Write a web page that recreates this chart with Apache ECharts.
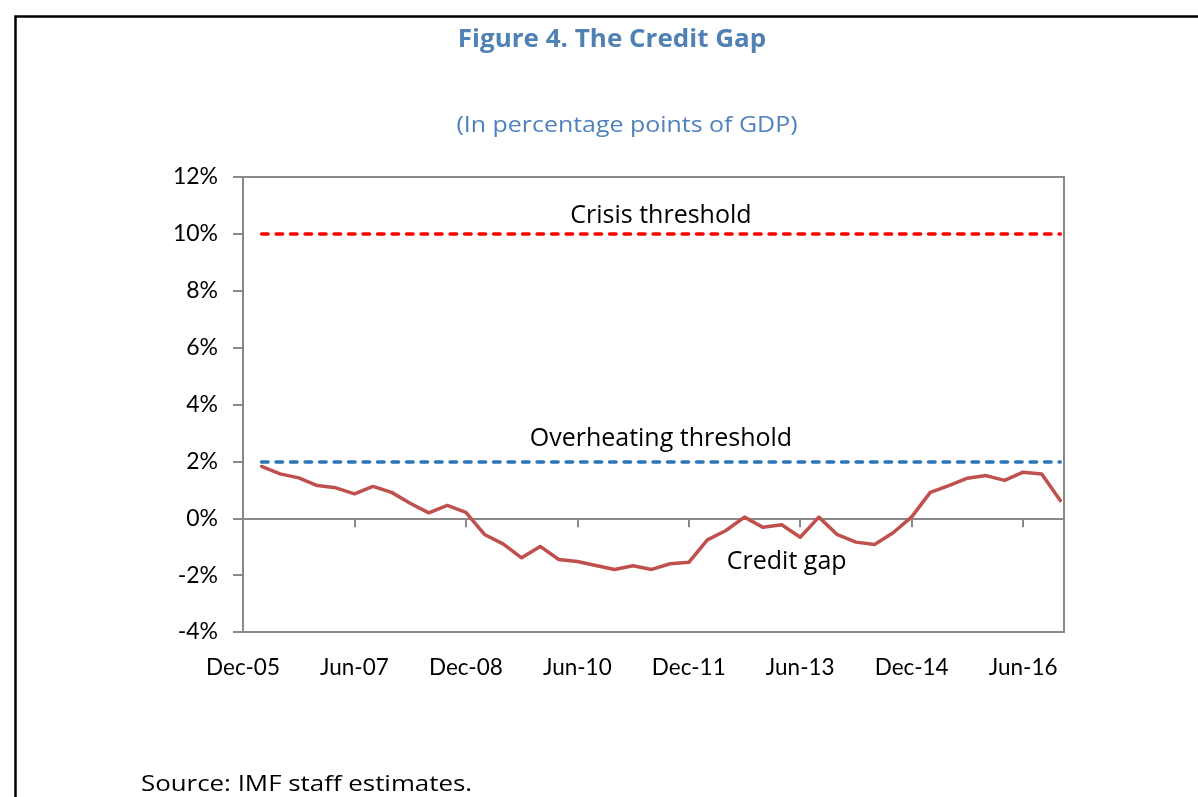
<!DOCTYPE html>
<html>
<head>
<meta charset="utf-8">
<script src="https://cdn.jsdelivr.net/npm/echarts@6/dist/echarts.min.js"></script>
<style>
html,body{margin:0;padding:0;background:#fff;}
#chart{width:1198px;height:797px;}
</style>
</head>
<body>
<div id="chart"></div>
<script>
// Quarterly observations (Mar-06 .. Dec-16); x position = quarters since Dec-05
const quarters = ['Mar-06','Jun-06','Sep-06','Dec-06','Mar-07','Jun-07','Sep-07','Dec-07',
  'Mar-08','Jun-08','Sep-08','Dec-08','Mar-09','Jun-09','Sep-09','Dec-09',
  'Mar-10','Jun-10','Sep-10','Dec-10','Mar-11','Jun-11','Sep-11','Dec-11',
  'Mar-12','Jun-12','Sep-12','Dec-12','Mar-13','Jun-13','Sep-13','Dec-13',
  'Mar-14','Jun-14','Sep-14','Dec-14','Mar-15','Jun-15','Sep-15','Dec-15',
  'Mar-16','Jun-16','Sep-16','Dec-16'];
const creditGap = [1.82,1.56,1.42,1.15,1.07,0.86,1.12,0.91,0.53,0.19,0.45,0.21,
  -0.57,-0.90,-1.39,-0.99,-1.45,-1.52,-1.66,-1.80,-1.67,-1.80,-1.60,-1.55,
  -0.76,-0.43,0.04,-0.32,-0.23,-0.67,0.04,-0.58,-0.84,-0.92,-0.51,0.05,
  0.91,1.15,1.41,1.50,1.33,1.62,1.56,0.62];
const tickLabels = ['Dec-05','Jun-07','Dec-08','Jun-10','Dec-11','Jun-13','Dec-14','Jun-16'];
const tickStep = 6; // quarters between tick labels
const crisisThreshold = 10;
const overheatingThreshold = 2;
const yTicks = [-4,-2,0,2,4,6,8,10,12];

const AXFONT = 'Lato';
const TXFONT = '"Open Sans"';
const chart = echarts.init(document.getElementById('chart'));
const seriesData = quarters.map((q, i) => [i + 1, creditGap[i]]);
const xFirst = 1, xLast = quarters.length;

const option = {
  animation: false,
  backgroundColor: '#fff',
  textStyle: { fontFamily: AXFONT },
  grid: { left: 243, top: 177, width: 821, height: 455, show: true, borderColor: '#898989', borderWidth: 2, containLabel: false },
  graphic: [
    { type: 'rect', left: 13, top: 14, shape: { width: 1400, height: 900 }, style: { fill: 'none', stroke: '#000', lineWidth: 2.5 }, z: 100 },
    { type: 'text', x: 612, y: 40, scaleX: 1.04, style: { text: 'Figure 4. The Credit Gap', fontFamily: TXFONT, fontWeight: 'bold', fontSize: 25, fill: '#4f81b5', textAlign: 'center', textVerticalAlign: 'middle' } },
    { type: 'text', x: 627, y: 126, scaleX: 1.16, style: { text: '(In percentage points of GDP)', fontFamily: TXFONT, fontSize: 21.5, fill: '#4f81bd', textAlign: 'center', textVerticalAlign: 'middle' } },
    { type: 'text', x: 141, y: 785, scaleX: 1.15, style: { text: 'Source: IMF staff estimates.', fontFamily: TXFONT, fontSize: 22.5, fill: '#000', textAlign: 'left', textVerticalAlign: 'middle' } }
  ],
  xAxis: [
    {
      type: 'value', min: 0, max: 44.2, interval: tickStep,
      axisLine: { show: true, onZero: true, lineStyle: { color: '#898989', width: 2 } },
      axisTick: { show: true, inside: false, length: 9, lineStyle: { color: '#898989', width: 2 } },
      axisLabel: { show: false },
      splitLine: { show: false }
    },
    {
      type: 'value', min: 0, max: 44.2, interval: tickStep, position: 'bottom',
      axisLine: { show: false, onZero: false },
      axisTick: { show: false },
      axisLabel: {
        show: true, margin: 24, color: '#000', fontFamily: AXFONT, fontSize: 22.5,
        formatter: v => (v % tickStep === 0 && tickLabels[v / tickStep] !== undefined) ? tickLabels[v / tickStep] : ''
      },
      splitLine: { show: false }
    }
  ],
  yAxis: {
    type: 'value', min: yTicks[0], max: yTicks[yTicks.length - 1], interval: 2,
    axisLine: { show: true, lineStyle: { color: '#898989', width: 2 } },
    axisTick: { show: true, inside: false, length: 10, lineStyle: { color: '#898989', width: 2 } },
    axisLabel: { margin: 25, color: '#000', fontFamily: AXFONT, fontSize: 23, formatter: '{value}%' },
    splitLine: { show: false }
  },
  series: [
    {
      type: 'line', name: 'Credit gap', xAxisIndex: 0, yAxisIndex: 0,
      data: seriesData, showSymbol: false, symbol: 'none',
      lineStyle: { color: '#c0504d', width: 3.5, cap: 'round', join: 'round' },
      z: 5,
      markLine: {
        silent: true, symbol: ['none', 'none'], animation: false,
        data: [
          [
            { coord: [xFirst, crisisThreshold], name: 'Crisis threshold',
              lineStyle: { color: '#ff0000', width: 3.5, type: [6.5, 8], cap: 'round' },
              label: { show: true, position: 'middle', formatter: 'Crisis threshold', color: '#000', fontFamily: TXFONT, fontSize: 25, distance: 6 } },
            { coord: [xLast, crisisThreshold] }
          ],
          [
            { coord: [xFirst, overheatingThreshold], name: 'Overheating threshold',
              lineStyle: { color: '#2e75b6', width: 3.5, type: [6.5, 8], cap: 'round' },
              label: { show: true, position: 'middle', formatter: 'Overheating threshold', color: '#000', fontFamily: TXFONT, fontSize: 25, distance: 10 } },
            { coord: [xLast, overheatingThreshold] }
          ]
        ]
      },
      markPoint: {
        silent: true, symbol: 'rect', symbolSize: 0,
        data: [
          { coord: [29.27, -1.52], label: { show: true, position: 'inside', formatter: 'Credit gap', color: '#000', fontFamily: TXFONT, fontSize: 25 } }
        ]
      }
    }
  ]
};
chart.setOption(option);
</script>
</body>
</html>
